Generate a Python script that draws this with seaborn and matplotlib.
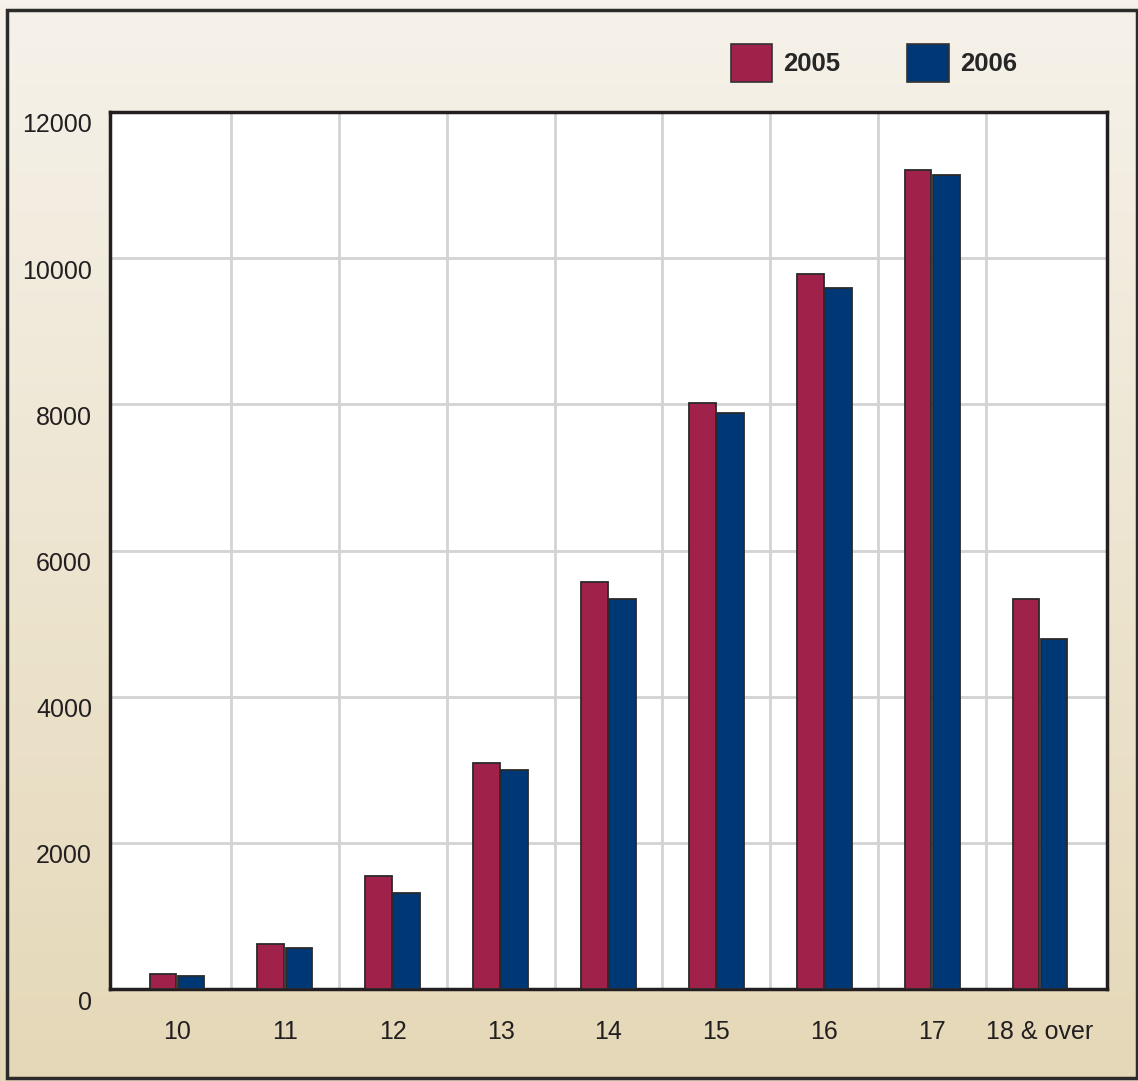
import numpy as np
import pandas as pd
import matplotlib
matplotlib.use("Agg")
import matplotlib.pyplot as plt
import seaborn as sns
from matplotlib.patches import Rectangle, Patch
from matplotlib.transforms import ScaledTranslation

ages = ["10", "11", "12", "13", "14", "15", "16", "17", "18 & over"]
values_2005 = [200, 620, 1550, 3090, 5570, 8020, 9790, 11210, 5330]
values_2006 = [175, 560, 1310, 3000, 5330, 7880, 9590, 11140, 4790]
years = ["2005", "2006"]
colors = ["#A0214A", "#003876"]

df = pd.DataFrame({
    "age": ages * 2,
    "value": values_2005 + values_2006,
    "year": ["2005"] * len(ages) + ["2006"] * len(ages),
})

sns.set_style("white")
plt.rcParams["font.family"] = ["Liberation Sans", "DejaVu Sans"]

W, H = 1138, 1081
fig = plt.figure(figsize=(W / 100, H / 100), dpi=100)

# background gradient
bg = fig.add_axes([0, 0, 1, 1], zorder=-10)
grad = np.linspace(0, 1, 256).reshape(-1, 1)
top_c = np.array([0xF6, 0xF2, 0xEA]) / 255
bot_c = np.array([0xE5, 0xD8, 0xB8]) / 255
img = top_c[None, None, :] * (1 - grad[:, :, None]) + bot_c[None, None, :] * grad[:, :, None]
bg.imshow(img, aspect="auto", extent=[0, 1, 0, 1], origin="upper")
bg.set_xlim(0, 1)
bg.set_ylim(0, 1)
bg.axis("off")
bg.add_patch(Rectangle((7 / W, 3 / H), (1137 - 7) / W, (1071 - 3) / H,
                       fill=False, edgecolor="#2b2b2b", linewidth=2.5,
                       transform=bg.transAxes))

ax = fig.add_axes([110 / W, 92 / H, (1107 - 110) / W, (989 - 112) / H])
ax.set_facecolor("white")
sns.barplot(data=df, x="age", y="value", hue="year", palette=colors,
            hue_order=years, order=ages, width=0.52, gap=0.05,
            saturation=1, edgecolor="#2a2a2a", linewidth=1.3, ax=ax,
            legend=False, zorder=3)

ax.set_xlim(-0.62, 8.62)
ax.set_ylim(0, 12000)
ax.set_yticks(range(0, 12001, 2000))
ax.set_xticks(range(len(ages)))
ax.set_xticklabels(ages)
ax.set_xticks(np.arange(0.5, len(ages) - 1, 1.0), minor=True)
ax.grid(axis="y", which="major", color="#D3D3D3", linewidth=2, zorder=0)
ax.grid(axis="x", which="minor", color="#D3D3D3", linewidth=2, zorder=0)
ax.grid(axis="x", which="major", visible=False)
ax.set_axisbelow(True)
ax.set_xlabel("")
ax.set_ylabel("")
for s in ax.spines.values():
    s.set_visible(True)
    s.set_color("#231F20")
    s.set_linewidth(2.5)
ax.tick_params(axis="both", which="both", length=0, labelsize=18,
               labelcolor="#231F20")
ax.tick_params(axis="y", pad=13)
ax.tick_params(axis="x", pad=22)
off = ScaledTranslation(0, -0.11, fig.dpi_scale_trans)
for lab in ax.get_yticklabels():
    lab.set_transform(lab.get_transform() + off)

handles = [Patch(facecolor=c, edgecolor="#333333", linewidth=1.2) for c in colors]
fig.legend(handles, years, loc="center", bbox_to_anchor=(874 / W, 1 - 63 / H),
           ncol=2, frameon=False, prop={"weight": "bold", "size": 18.5},
           handlelength=1.6, handleheight=1.95, handletextpad=0.45,
           columnspacing=2.6)

fig.savefig("out.png", dpi=100)
